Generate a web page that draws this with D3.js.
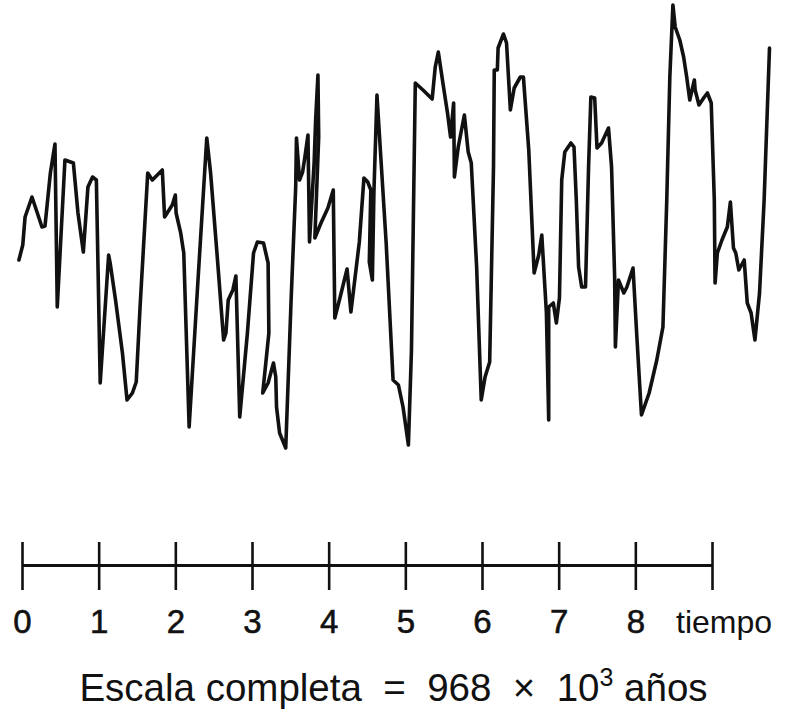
<!DOCTYPE html>
<html lang="es">
<head>
    <meta charset="UTF-8">
    <title>Escala completa</title>
    <script src="https://cdn.jsdelivr.net/npm/d3@7"></script>
    <style>
        body { margin: 0; background: #fff; }
        .serie { fill: none; stroke: #111; stroke-width: 3.6px; stroke-linejoin: round; stroke-linecap: round; }
        .eje path, .eje line { stroke: #111; }
        .eje path { stroke-width: 3px; }
        .eje line { stroke-width: 2.6px; }
        .eje text { font-family: "Liberation Sans", Arial, sans-serif; font-size: 33px; fill: #111; stroke: #111; stroke-width: 0.6px; }
        .tiempo { font-family: "Liberation Sans", Arial, sans-serif; font-size: 32px; fill: #111; }
        .leyenda { font-family: "Liberation Sans", Arial, sans-serif; font-size: 38.5px; fill: #111; }
    </style>
</head>
<body>
<div id="chart"></div>
<script>
    // tiempo (unidades del eje) y valor (unidades arbitrarias)
    const tiempo = [-0.04,0.01,0.04,0.13,0.20,0.26,0.30,0.37,0.43,0.46,
        0.56,0.67,0.73,0.80,0.86,0.92,0.97,1.02,1.13,1.15,
        1.22,1.31,1.37,1.44,1.49,1.54,1.64,1.70,1.83,1.86,
        1.96,2.00,2.01,2.07,2.11,2.18,2.29,2.41,2.46,2.55,
        2.63,2.66,2.69,2.75,2.79,2.84,2.94,3.02,3.07,3.15,
        3.21,3.22,3.14,3.21,3.28,3.31,3.32,3.36,3.44,3.51,
        3.57,3.58,3.62,3.66,3.69,3.73,3.75,3.81,3.83,3.86,
        3.87,3.82,3.90,3.99,4.06,4.08,4.15,4.24,4.29,4.40,
        4.46,4.51,4.55,4.53,4.57,4.59,4.63,4.68,4.75,4.84,
        4.91,4.97,5.04,5.08,5.13,5.23,5.35,5.39,5.43,5.49,
        5.55,5.59,5.63,5.64,5.69,5.77,5.82,5.86,5.93,5.99,
        6.04,6.10,6.15,6.16,6.20,6.21,6.28,6.32,6.37,6.42,
        6.50,6.54,6.61,6.68,6.74,6.78,6.82,6.84,6.87,6.87,
        6.93,6.97,7.01,7.04,7.08,7.16,7.20,7.23,7.26,7.30,
        7.35,7.39,7.42,7.47,7.50,7.56,7.65,7.69,7.73,7.74,
        7.78,7.85,7.89,7.97,8.02,8.08,8.18,8.28,8.36,8.41,
        8.45,8.49,8.52,8.58,8.63,8.67,8.71,8.77,8.78,8.83,
        8.90,8.94,8.99,9.03,9.04,9.07,9.13,9.20,9.24,9.28,
        9.31,9.35,9.42,9.46,9.51,9.56,9.62,9.68,9.75];

    const valor = [95,102.5,116.5,126.5,118.5,111.5,112,138.5,153,71.5,
        145,143.5,118.5,99,131.5,136.5,135,33.5,97.5,93.5,
        75,48.5,25,28.5,34,71.5,138.5,135,140,116.5,
        122.5,127.5,118.5,108.5,98.5,11.5,81.5,156,138.5,95,
        55,58.5,75,80,87,16.5,58.5,98.5,104,103.5,
        93.5,58.5,28.5,33.5,43.5,36.5,21.5,8.5,1,75,
        131.5,156,135,139,146.5,157.5,104,143.5,165,187.5,
        156.5,106,113.5,121,130,66,76.5,90.5,69,104,
        136,134,130,94,85,128.5,177.5,146.5,103.5,35,
        32.5,21.5,2.5,50,183.5,180,175.5,191.5,199,183.5,
        168.5,156.5,173.5,136.5,151.5,167.5,149,143.5,91.5,25,
        36.5,44,141.5,190,190,201,208,203.5,170,181,
        186.5,186.5,150,88.5,97.5,107.5,81.5,68.5,15,71.5,
        73.5,63.5,76,135,149,153.5,151.5,125,91.5,81.5,
        81.5,141.5,176.5,176,151,153.5,161,141.5,86.5,51.5,
        85,78.5,81.5,91,56.5,17.5,28.5,45,61.5,125,
        186.5,222.5,211.5,205,196.5,186.5,175,185,180,172.5,
        176.5,178.5,173.5,125,83.5,98.5,105,111.5,124,101,
        98.5,90,95,73.5,68.5,55,78.5,125,201];

    const marcas = [0,1,2,3,4,5,6,7,8,9];
    const etiquetas = ["0","1","2","3","4","5","6","7","8",""];
    const nombreEje = "tiempo";

    const width = 787;
    const height = 722;

    const x = d3.scaleLinear().domain([0, 9]).range([22, 712]);
    const y = d3.scaleLinear().domain([0, 225]).range([450, 0]);

    const svg = d3.select("#chart").append("svg")
        .attr("width", width)
        .attr("height", height);

    const datos = d3.zip(tiempo, valor);

    const linea = d3.line()
        .x(d => x(d[0]))
        .y(d => y(d[1]));

    svg.append("path")
        .datum(datos)
        .attr("class", "serie")
        .attr("d", linea);

    // eje del tiempo
    const ejeY = 565;
    const eje = svg.append("g")
        .attr("class", "eje")
        .attr("transform", `translate(0, ${ejeY})`)
        .call(d3.axisBottom(x)
            .tickValues(marcas)
            .tickSizeOuter(0)
            .tickSize(0)
            .tickFormat((d, i) => etiquetas[i]));

    eje.selectAll(".tick line")
        .attr("y1", -23)
        .attr("y2", 25);

    eje.selectAll(".tick text")
        .attr("y", 68)
        .attr("dy", 0)
        .attr("font-family", null)
        .attr("font-size", null);

    eje.select(".domain").attr("stroke-width", null);

    svg.append("text")
        .attr("class", "tiempo")
        .attr("x", x(9) - 36)
        .attr("y", ejeY + 68)
        .text(nombreEje);

    // leyenda
    const leyenda = svg.append("text")
        .attr("class", "leyenda")
        .attr("x", width / 2)
        .attr("y", 701)
        .attr("text-anchor", "middle")
        .attr("xml:space", "preserve");
    leyenda.append("tspan").text("Escala completa  =  968  \u00d7  10");
    leyenda.append("tspan").attr("dy", -15).attr("font-size", 25).text("3");
    leyenda.append("tspan").attr("dy", 15).text(" años");
</script>
</body>
</html>
